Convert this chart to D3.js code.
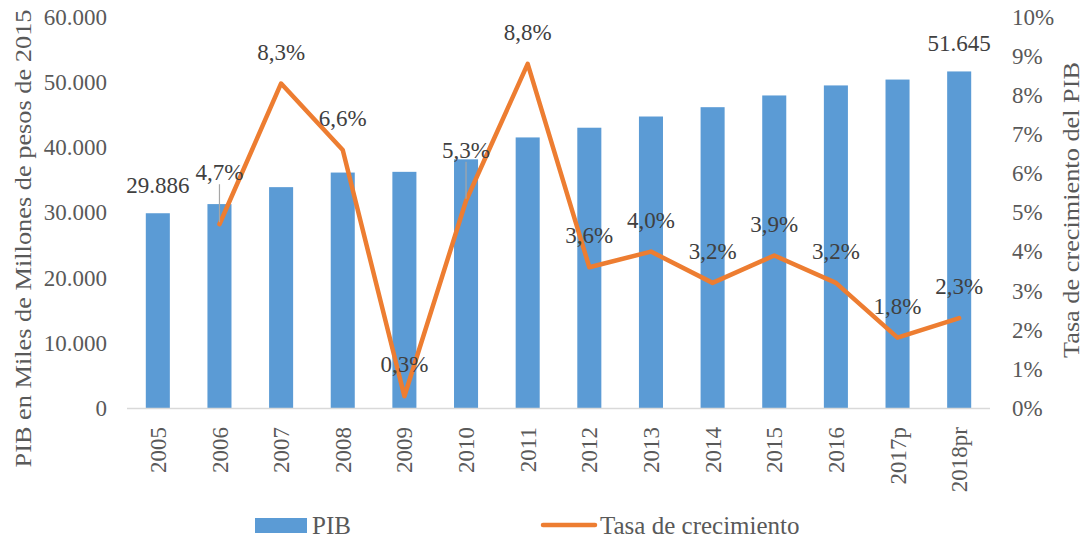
<!DOCTYPE html>
<html>
<head>
<meta charset="utf-8">
<script src="https://cdn.jsdelivr.net/npm/d3@7"></script>
<style>
  body { margin: 0; background: #fff; }
</style>
</head>
<body>
<svg id="chart" width="1084" height="539"></svg>
<script>
// data
var years = ["2005", "2006", "2007", "2008", "2009", "2010", "2011", "2012", "2013", "2014", "2015", "2016", "2017p", "2018pr"];
var pib = [29886, 31290, 33890, 36130, 36240, 38160, 41520, 43010, 44730, 46160, 47960, 49500, 50400, 51645];
var growth = [null, 0.047, 0.083, 0.066, 0.003, 0.053, 0.088, 0.036, 0.040, 0.032, 0.039, 0.032, 0.018, 0.023];
var pibLabelYears = ["2005", "2018pr"];
var leftTicks = [0, 10000, 20000, 30000, 40000, 50000, 60000];
var rightTicks = [0, 0.01, 0.02, 0.03, 0.04, 0.05, 0.06, 0.07, 0.08, 0.09, 0.10];

var config = {
    margin: { left: 127, right: 94, top: 17, bottom: 131 },
    blue: "#5B9BD5",
    orange: "#ED7D31",
    tickColor: "#595959",
    labelColor: "#404040",
    font: "'Liberation Serif', 'Times New Roman', serif",
    fontSize: 23,
    // labels that were moved up and got a leader line
    leaderLabels: { "2006": 52, "2010": 51 }
};

var es = d3.formatLocale({ decimal: ",", thousands: ".", grouping: [3], currency: ["$", ""] });
var fmtNum = es.format(",.0f");
var fmtPct = es.format(".1%");
var fmtPctAxis = es.format(".0%");

var svg = d3.select("#chart");
var W = +svg.attr("width"), H = +svg.attr("height");
var m = config.margin;
var x0 = m.left, x1 = W - m.right, yBase = H - m.bottom, yTop = m.top;

var x = d3.scaleBand().domain(years).range([x0, x1]).paddingInner(0.61).paddingOuter(0.305);
var y = d3.scaleLinear().domain([0, 60000]).range([yBase, yTop]);
var y2 = d3.scaleLinear().domain([0, 0.10]).range([yBase, yTop]);
var cx = (d) => x(d) + x.bandwidth() / 2;

var styleText = (sel, color, size) => sel
    .style("font-family", config.font)
    .style("font-size", (size || config.fontSize) + "px")
    .attr("fill", color || config.tickColor);

// bars
svg.append("g").selectAll("rect")
    .data(years)
    .join("rect")
    .attr("x", (d) => x(d))
    .attr("width", x.bandwidth())
    .attr("y", (d, i) => y(pib[i]))
    .attr("height", (d, i) => yBase - y(pib[i]))
    .attr("fill", config.blue);

// category axis line
svg.append("line")
    .attr("x1", x0).attr("x2", x1)
    .attr("y1", yBase + 0.5).attr("y2", yBase + 0.5)
    .attr("stroke", "#D9D9D9").attr("stroke-width", 1.5);

// left axis
var left = svg.append("g")
    .attr("transform", `translate(${x0 - 17},0)`)
    .call(d3.axisLeft(y).tickValues(leftTicks).tickFormat(fmtNum).tickSize(0));
left.select(".domain").remove();
styleText(left.selectAll("text"));

// right axis
var right = svg.append("g")
    .attr("transform", `translate(${x1 + 19},0)`)
    .call(d3.axisRight(y2).tickValues(rightTicks).tickFormat(fmtPctAxis).tickSize(0));
right.select(".domain").remove();
styleText(right.selectAll("text"));

// bottom axis, labels rotated
var bottom = svg.append("g")
    .attr("transform", `translate(0,${yBase})`)
    .call(d3.axisBottom(x).tickSize(0));
bottom.select(".domain").remove();
styleText(bottom.selectAll("text"))
    .attr("transform", "rotate(-90)")
    .attr("text-anchor", "end")
    .attr("x", -19)
    .attr("y", 0)
    .attr("dy", "0.35em");

// growth line
var pts = years.map((d, i) => ({ year: d, v: growth[i] })).filter((d) => d.v !== null);
svg.append("path")
    .datum(pts)
    .attr("fill", "none")
    .attr("stroke", config.orange)
    .attr("stroke-width", 4.5)
    .attr("stroke-linejoin", "round")
    .attr("stroke-linecap", "round")
    .attr("d", d3.line().x((d) => cx(d.year)).y((d) => y2(d.v)));

// leader lines
pts.filter((d) => config.leaderLabels[d.year]).forEach((d) => {
    svg.append("line")
        .attr("x1", cx(d.year)).attr("x2", cx(d.year))
        .attr("y1", y2(d.v) - config.leaderLabels[d.year] + 12)
        .attr("y2", y2(d.v) - 2)
        .attr("stroke", "#A6A6A6").attr("stroke-width", 1.2);
});

// growth labels
styleText(svg.append("g").selectAll("text")
    .data(pts)
    .join("text"), config.labelColor)
    .attr("x", (d) => cx(d.year))
    .attr("y", (d) => y2(d.v) - (config.leaderLabels[d.year] || 32))
    .attr("dy", "0.35em")
    .attr("text-anchor", "middle")
    .text((d) => fmtPct(d.v));

// PIB labels
styleText(svg.append("g").selectAll("text")
    .data(pibLabelYears)
    .join("text"), config.labelColor)
    .attr("x", (d) => cx(d))
    .attr("y", (d) => y(pib[years.indexOf(d)]) - 20)
    .attr("text-anchor", "middle")
    .text((d) => fmtNum(pib[years.indexOf(d)]));

// axis titles
styleText(svg.append("text"))
    .attr("transform", `translate(31,${(yTop + yBase) / 2 + 26}) rotate(-90)`)
    .attr("text-anchor", "middle")
    .attr("textLength", 458)
    .attr("lengthAdjust", "spacingAndGlyphs")
    .text("PIB en Miles de Millones de pesos de 2015");

styleText(svg.append("text"))
    .attr("transform", `translate(1079,210) rotate(-90)`)
    .attr("text-anchor", "middle")
    .attr("textLength", 296)
    .attr("lengthAdjust", "spacingAndGlyphs")
    .text("Tasa de crecimiento del PIB");

// legend
var legend = svg.append("g").attr("transform", `translate(0,${H - 14})`);
legend.append("rect")
    .attr("x", 255).attr("y", -7).attr("width", 52).attr("height", 15)
    .attr("fill", config.blue);
styleText(legend.append("text"), null, 25)
    .attr("x", 312).attr("dy", "0.35em")
    .text("PIB");
legend.append("line")
    .attr("x1", 543).attr("x2", 595).attr("y1", 0).attr("y2", 0)
    .attr("stroke", config.orange).attr("stroke-width", 4.5).attr("stroke-linecap", "round");
styleText(legend.append("text"), null, 25)
    .attr("x", 600).attr("dy", "0.35em")
    .text("Tasa de crecimiento");
</script>
</body>
</html>
